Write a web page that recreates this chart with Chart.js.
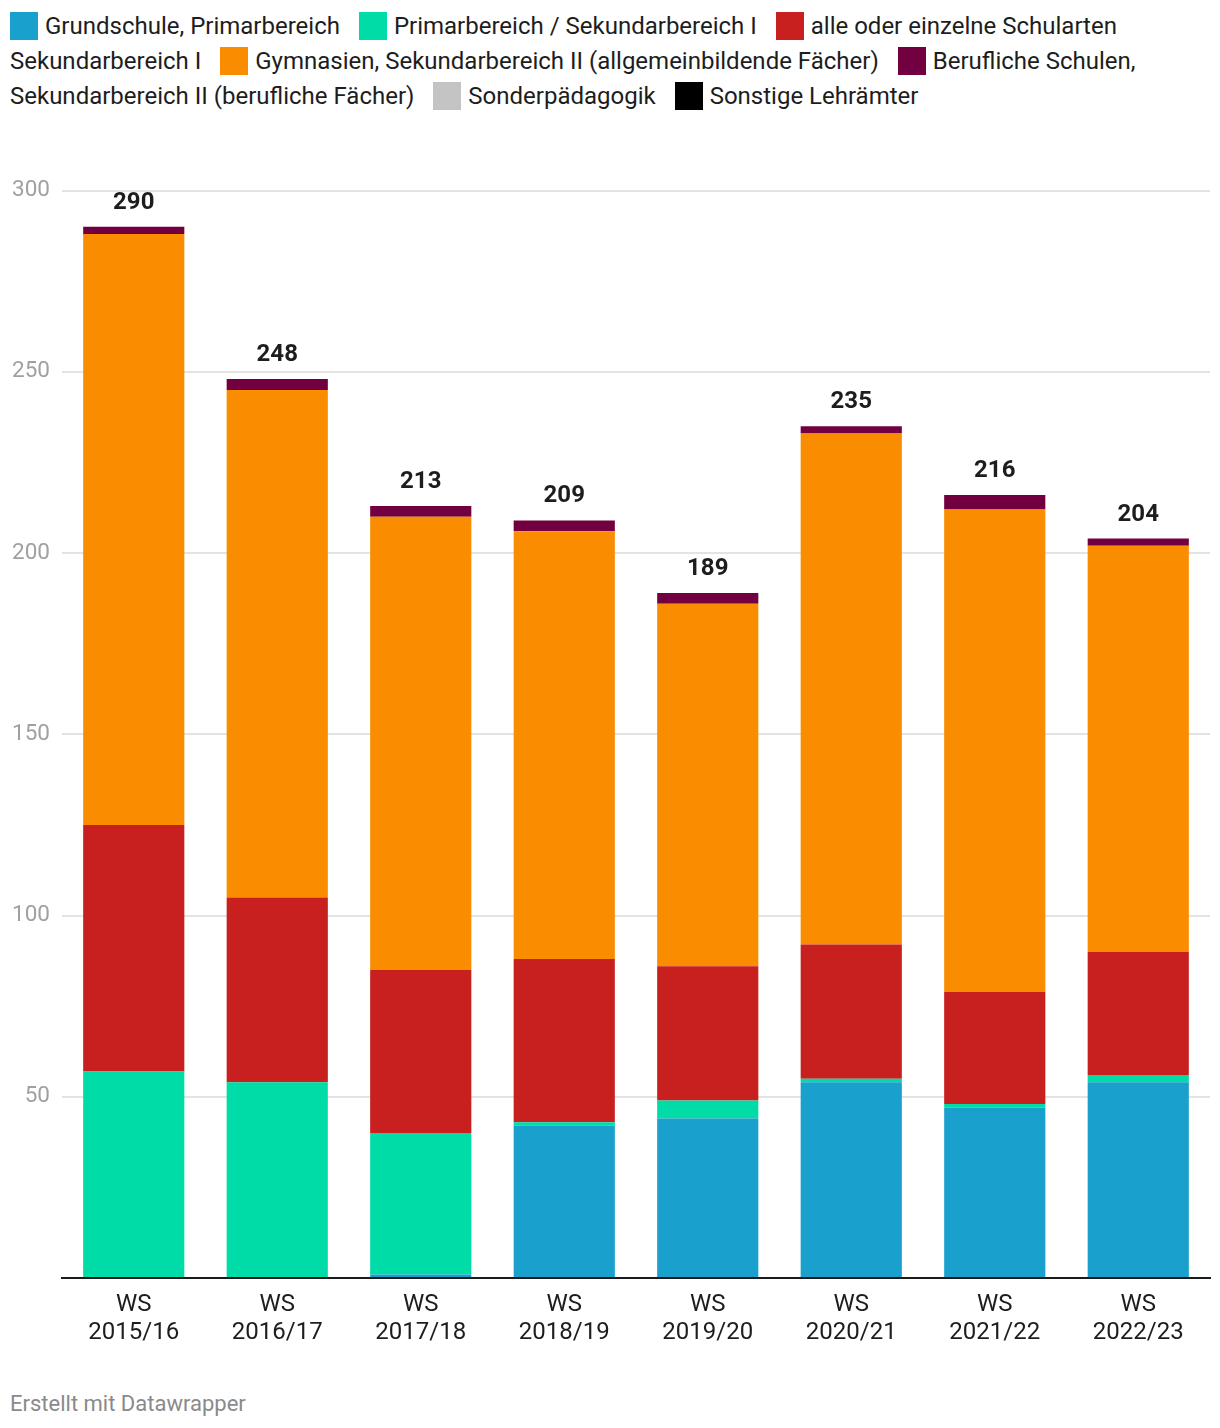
<!DOCTYPE html>
<html>
<head>
<meta charset="utf-8">
<script src="https://cdn.jsdelivr.net/npm/chart.js@4"></script>
<style>
  html, body { margin: 0; padding: 0; background: #fff; }
  body { width: 1220px; height: 1428px; position: relative; font-family: Roboto, sans-serif; overflow: hidden; }
  #legend { position: absolute; left: 10px; top: 9px; width: 1200px; font-size: 24px; line-height: 35px; color: #1d1d1d; }
  #legend .item { margin-right: 13px; }
  #legend .nw { white-space: nowrap; }
  #legend .sw { display: inline-block; width: 28px; height: 28px; vertical-align: -6px; margin-right: 7px; }
  #wrap { position: absolute; left: 0; top: 165px; width: 1220px; height: 1195px; }
  #footer { position: absolute; left: 10px; top: 1391px; font-size: 22px; color: #8a8a8a; }
</style>
</head>
<body>
<div id="legend"></div>
<div id="wrap"><canvas id="c"></canvas></div>
<div id="footer">Erstellt mit Datawrapper</div>
<script>
const categories = [['WS','2015/16'],['WS','2016/17'],['WS','2017/18'],['WS','2018/19'],['WS','2019/20'],['WS','2020/21'],['WS','2021/22'],['WS','2022/23']];
const seriesNames = ['Grundschule, Primarbereich','Primarbereich / Sekundarbereich I','alle oder einzelne Schularten Sekundarbereich I','Gymnasien, Sekundarbereich II (allgemeinbildende Fächer)','Berufliche Schulen, Sekundarbereich II (berufliche Fächer)','Sonderpädagogik','Sonstige Lehrämter'];
const grundschule = [0, 0, 1, 42, 44, 54, 47, 54];
const primarSek = [57, 54, 39, 1, 5, 1, 1, 2];
const alleSchularten = [68, 51, 45, 45, 37, 37, 31, 34];
const gymnasien = [163, 140, 125, 118, 100, 141, 133, 112];
const beruflich = [2, 3, 3, 3, 3, 2, 4, 2];
const sonder = [0, 0, 0, 0, 0, 0, 0, 0];
const sonstige = [0, 0, 0, 0, 0, 0, 0, 0];
const totals = [290, 248, 213, 209, 189, 235, 216, 204];
const yTicks = [0, 50, 100, 150, 200, 250, 300];
const colors = ['#19a0cd', '#00dca7', '#c81f1f', '#fa8c00', '#720041', '#c4c4c4', '#000000'];

const seriesData = [grundschule, primarSek, alleSchularten, gymnasien, beruflich, sonder, sonstige];

// HTML legend
const leg = document.getElementById('legend');
seriesNames.forEach((name, i) => {
  const words = name.split(' ');
  const first = words.shift();
  const item = document.createElement('span');
  item.className = 'item';
  item.innerHTML = '<span class="nw"><span class="sw" style="background:' + colors[i] + '"></span>' + first + '</span> ' + words.join(' ');
  leg.appendChild(item);
  leg.appendChild(document.createTextNode(' '));
});

const totalsPlugin = {
  id: 'totals',
  afterDatasetsDraw(chart) {
    const ctx = chart.ctx;
    const x = chart.scales.x, y = chart.scales.y;
    ctx.save();
    ctx.font = 'bold 24px Roboto';
    ctx.fillStyle = '#1d1d1d';
    ctx.textAlign = 'center';
    ctx.textBaseline = 'middle';
    totals.forEach((t, i) => {
      ctx.fillText(String(t), x.getPixelForValue(i), y.getPixelForValue(t) - 24);
    });
    ctx.restore();
  }
};

new Chart(document.getElementById('c'), {
  type: 'bar',
  data: {
    labels: categories,
    datasets: seriesData.map((d, i) => ({
      label: seriesNames[i],
      data: d,
      backgroundColor: colors[i],
      borderWidth: 0,
      barPercentage: 0.705,
      categoryPercentage: 1
    }))
  },
  options: {
    responsive: true,
    maintainAspectRatio: false,
    animation: false,
    layout: { padding: { top: 17, right: 10, left: 0, bottom: 0 } },
    plugins: { legend: { display: false }, tooltip: { enabled: false } },
    scales: {
      x: {
        stacked: true,
        grid: { display: false, drawTicks: false },
        border: { display: true, color: '#1a1a1a', width: 2 },
        ticks: { color: '#1d1d1d', font: { family: 'Roboto', size: 24, lineHeight: '28px' }, padding: 13, maxRotation: 0 },
        afterFit(s) { s.height = 82; }
      },
      y: {
        stacked: true,
        min: 0, max: 300,
        afterBuildTicks(s) { s.ticks = yTicks.map(v => ({ value: v })); },
        grid: { color: '#e3e3e3', lineWidth: 2, drawTicks: false },
        border: { display: false },
        ticks: {
          color: '#a0a0a0', font: { family: 'Roboto', size: 22.5 }, padding: 12,
          callback: v => (v === 0 ? '' : String(v))
        },
        afterFit(s) { s.width = 62; }
      }
    }
  },
  plugins: [totalsPlugin]
});
</script>
</body>
</html>
